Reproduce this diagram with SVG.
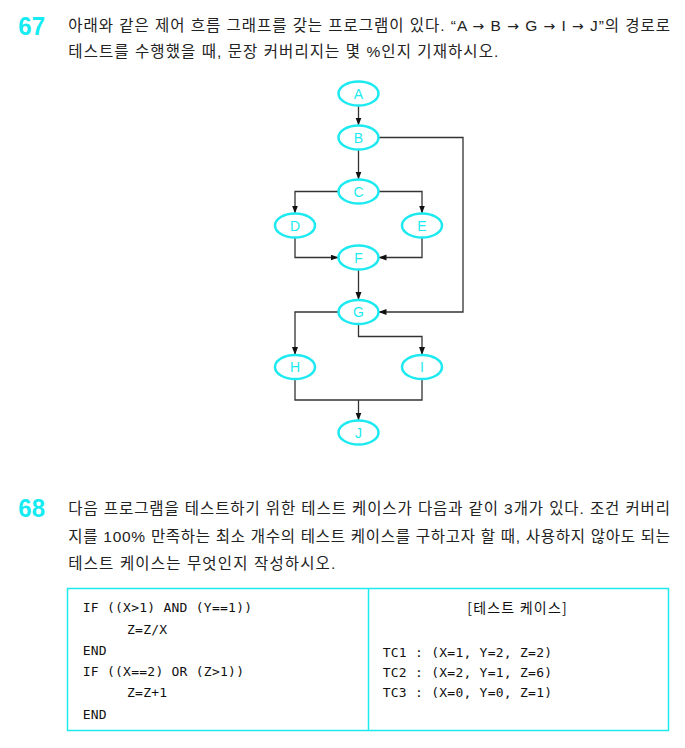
<svg xmlns="http://www.w3.org/2000/svg" width="685" height="748" viewBox="0 0 685 748">
<defs>
<style>
.num{font-family:"Liberation Sans",sans-serif;font-weight:bold;font-size:25px;fill:#14EBF2}
.q{font-family:"Liberation Sans","Noto Sans CJK KR",sans-serif;font-size:15.5px;fill:#222}
.q .arw{font-family:"DejaVu Sans",sans-serif;font-size:14px}
.nd ellipse{fill:#fff;stroke:#1CEAF0;stroke-width:2.5}
.nd text{font-family:"Liberation Sans",sans-serif;font-size:14px;fill:#1CEAF0;text-anchor:middle}
.cn path{fill:none;stroke:#333;stroke-width:1.3}
.code{font-family:"DejaVu Sans Mono",monospace;font-size:13px;letter-spacing:0.25px;fill:#111}
.kr{font-family:"Noto Sans CJK KR",sans-serif;font-size:14px;fill:#111}
.box{fill:none;stroke:#1CEAF0;stroke-width:1.5}
</style>
<marker id="ar" markerUnits="userSpaceOnUse" markerWidth="9" markerHeight="7" refX="8" refY="3" orient="auto">
<path d="M0,0 L8,3 L0,6 z" fill="#111"/>
</marker>
</defs>
<rect width="685" height="748" fill="#fff"/>

<g id="q67">
<text class="num" x="18.3" y="35" textLength="26.7" lengthAdjust="spacingAndGlyphs">67</text>
<text class="q" x="68.3" y="30.5" textLength="601.7" lengthAdjust="spacing">아래와 같은 제어 흐름 그래프를 갖는 프로그램이 있다. “A <tspan class="arw">→</tspan> B <tspan class="arw">→</tspan> G <tspan class="arw">→</tspan> I <tspan class="arw">→</tspan> J”의 경로로</text>
<text class="q" x="68.3" y="57" textLength="430" lengthAdjust="spacing">테스트를 수행했을 때, 문장 커버리지는 몇 %인지 기재하시오.</text>
</g>

<g id="connectors" class="cn">
<path d="M358.5 105.5 V125.5" marker-end="url(#ar)"/>
<path d="M358.5 149.5 V179.5" marker-end="url(#ar)"/>
<path d="M338.5 191.5 H295 V213.5" marker-end="url(#ar)"/>
<path d="M378.5 191.5 H422 V213.5" marker-end="url(#ar)"/>
<path d="M295 237.5 V257.5 H338.5" marker-end="url(#ar)"/>
<path d="M422 237.5 V257.5 H378.5" marker-end="url(#ar)"/>
<path d="M358.5 269.5 V300" marker-end="url(#ar)"/>
<path d="M378.5 137.5 H463 V312 H378.5" marker-end="url(#ar)"/>
<path d="M338.5 312 H295 V355" marker-end="url(#ar)"/>
<path d="M358.5 324 V336.5 H422 V355" marker-end="url(#ar)"/>
<path d="M295 379 V400 H422 V379"/>
<path d="M358.5 400 V420.5" marker-end="url(#ar)"/>
</g>

<g id="nA" class="nd"><ellipse cx="358.5" cy="93.5" rx="20" ry="12"/><text x="358.5" y="98.5">A</text></g>
<g id="nB" class="nd"><ellipse cx="358.5" cy="137.5" rx="20" ry="12"/><text x="358.5" y="142.5">B</text></g>
<g id="nC" class="nd"><ellipse cx="358.5" cy="191.5" rx="20" ry="12"/><text x="358.5" y="196.5">C</text></g>
<g id="nD" class="nd"><ellipse cx="295" cy="225.5" rx="20" ry="12"/><text x="295" y="230.5">D</text></g>
<g id="nE" class="nd"><ellipse cx="422" cy="225.5" rx="20" ry="12"/><text x="422" y="230.5">E</text></g>
<g id="nF" class="nd"><ellipse cx="358.5" cy="257.5" rx="20" ry="12"/><text x="358.5" y="262.5">F</text></g>
<g id="nG" class="nd"><ellipse cx="358.5" cy="312" rx="20" ry="12"/><text x="358.5" y="317">G</text></g>
<g id="nH" class="nd"><ellipse cx="295" cy="367" rx="20" ry="12"/><text x="295" y="372">H</text></g>
<g id="nI" class="nd"><ellipse cx="422" cy="367" rx="20" ry="12"/><text x="422" y="372">I</text></g>
<g id="nJ" class="nd"><ellipse cx="358.5" cy="432.5" rx="20" ry="12"/><text x="358.5" y="437.5">J</text></g>

<g id="q68">
<text class="num" x="18.3" y="516.7" textLength="26.7" lengthAdjust="spacingAndGlyphs">68</text>
<text class="q" x="68.3" y="514" textLength="601.7" lengthAdjust="spacing">다음 프로그램을 테스트하기 위한 테스트 케이스가 다음과 같이 3개가 있다. 조건 커버리</text>
<text class="q" x="68.3" y="541.5" textLength="601.7" lengthAdjust="spacing">지를 100% 만족하는 최소 개수의 테스트 케이스를 구하고자 할 때, 사용하지 않아도 되는</text>
<text class="q" x="68.3" y="569" textLength="267" lengthAdjust="spacing">테스트 케이스는 무엇인지 작성하시오.</text>
</g>

<g id="table">
<rect class="box" x="67.5" y="588.5" width="601" height="142"/>
<line class="box" x1="368.5" y1="588.5" x2="368.5" y2="730.5"/>
<text class="code" x="82.7" y="612">IF ((X&gt;1) AND (Y==1))</text>
<text class="code" x="127" y="634">Z=Z/X</text>
<text class="code" x="82.7" y="655">END</text>
<text class="code" x="82.7" y="676">IF ((X==2) OR (Z&gt;1))</text>
<text class="code" x="127" y="697.3">Z=Z+1</text>
<text class="code" x="82.7" y="718.5">END</text>
<text class="kr" x="467.3" y="613" textLength="99.4" lengthAdjust="spacing">[테스트 케이스]</text>
<text class="code" x="382.7" y="657">TC1 : (X=1, Y=2, Z=2)</text>
<text class="code" x="382.7" y="677">TC2 : (X=2, Y=1, Z=6)</text>
<text class="code" x="382.7" y="697">TC3 : (X=0, Y=0, Z=1)</text>
</g>
</svg>
